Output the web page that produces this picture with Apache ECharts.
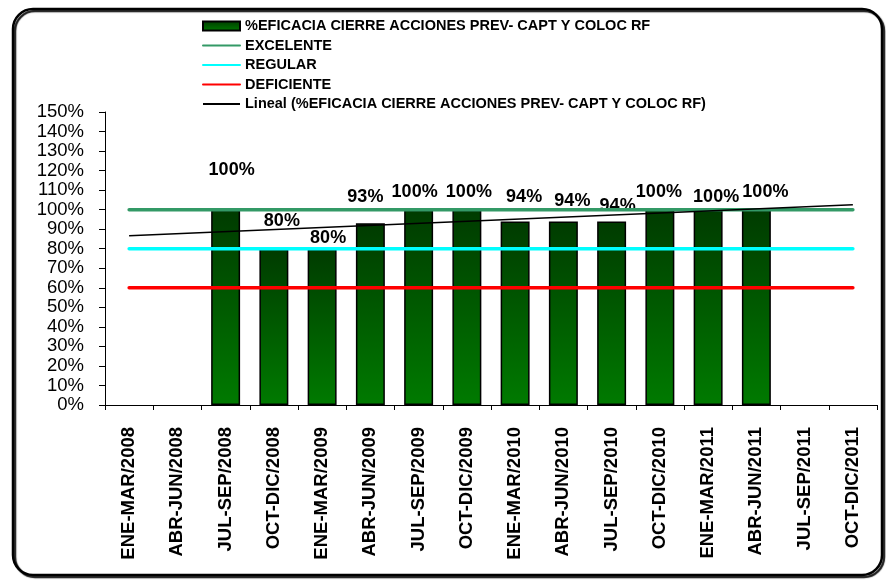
<!DOCTYPE html>
<html>
<head>
<meta charset="utf-8">
<script src="https://cdn.jsdelivr.net/npm/echarts@6/dist/echarts.min.js"></script>
<style>
  html, body { margin: 0; padding: 0; background: #fff; }
  #chart { width: 886px; height: 581px; }
</style>
</head>
<body>
<div id="chart"></div>
<script>
// categorias (trimestres)
const categories = [
  'ENE-MAR/2008', 'ABR-JUN/2008', 'JUL-SEP/2008', 'OCT-DIC/2008',
  'ENE-MAR/2009', 'ABR-JUN/2009', 'JUL-SEP/2009', 'OCT-DIC/2009',
  'ENE-MAR/2010', 'ABR-JUN/2010', 'JUL-SEP/2010', 'OCT-DIC/2010',
  'ENE-MAR/2011', 'ABR-JUN/2011', 'JUL-SEP/2011', 'OCT-DIC/2011'
];
const eficacia = [null, null, 100, 80, 80, 93, 100, 100, 94, 94, 94, 100, 100, 100, null, null];
const excelente = [100, 100, 100, 100, 100, 100, 100, 100, 100, 100, 100, 100, 100, 100, 100, 100];
const regular = [80, 80, 80, 80, 80, 80, 80, 80, 80, 80, 80, 80, 80, 80, 80, 80];
const deficiente = [60, 60, 60, 60, 60, 60, 60, 60, 60, 60, 60, 60, 60, 60, 60, 60];
const tendencia = [86.7, null, null, null, null, null, null, null, null, null, null, null, null, null, null, 102.5];
const yTicks = [0, 10, 20, 30, 40, 50, 60, 70, 80, 90, 100, 110, 120, 130, 140, 150];

const serieName = '%EFICACIA CIERRE ACCIONES PREV- CAPT Y COLOC RF';
const lineName = 'Lineal (' + serieName + ')';

// desplazamiento de las etiquetas (como quedaron en Excel)
const labelShift = [
  null, null, [6, -27], [8, -15], [6, 2], [-5, -13], [-4, -5], [2, -5],
  [9, -11], [9, -7], [6, -2], [-1, -5], [8, 0], [9, -5], null, null
];

const barData = eficacia.map((v, i) => {
  if (v === null) return null;
  const s = labelShift[i] || [0, 0];
  return { value: v, label: { offset: s } };
});

const chart = echarts.init(document.getElementById('chart'));

const noDot = { opacity: 0 };

const option = {
  animation: false,
  textStyle: { fontFamily: 'Liberation Sans, Arial, sans-serif' },
  graphic: [{
    type: 'rect',
    shape: { x: 13, y: 9, width: 869, height: 566, r: 20 },
    style: {
      fill: 'none', stroke: '#000', lineWidth: 2.5,
      shadowColor: 'rgba(0,0,0,0.9)', shadowOffsetX: 2, shadowOffsetY: 2, shadowBlur: 1
    },
    z: -1
  }],
  legend: {
    orient: 'vertical',
    left: 197,
    top: 13,
    itemWidth: 37,
    itemHeight: 9,
    itemGap: 3.5,
    textStyle: { fontSize: 14.5, fontWeight: 'bold', color: '#000', lineHeight: 16 },
    data: [
      { name: serieName, icon: 'rect' },
      { name: 'EXCELENTE', itemStyle: noDot },
      { name: 'REGULAR', itemStyle: noDot },
      { name: 'DEFICIENTE', itemStyle: noDot },
      { name: lineName, itemStyle: noDot }
    ]
  },
  grid: { left: 105, right: 9, top: 112, bottom: 176, containLabel: false },
  xAxis: {
    type: 'category',
    data: categories,
    boundaryGap: true,
    axisLine: { lineStyle: { color: '#000', width: 1 } },
    axisTick: { show: true, inside: false, length: 5, lineStyle: { color: '#000' } },
    axisLabel: {
      rotate: 90, interval: 0, margin: 22,
      fontSize: 18.5, fontWeight: 'bold', color: '#000'
    }
  },
  yAxis: {
    type: 'value',
    min: 0, max: 150, interval: 10,
    axisLine: { show: true, lineStyle: { color: '#000', width: 1 } },
    axisTick: { show: true, length: 6, lineStyle: { color: '#000' } },
    splitLine: { show: false },
    axisLabel: {
      fontSize: 18.5, color: '#000', margin: 21,
      formatter: v => yTicks.includes(v) ? v + '%' : ''
    }
  },
  series: [
    {
      name: serieName,
      type: 'bar',
      data: barData,
      barWidth: '60%',
      itemStyle: {
        color: new echarts.graphic.LinearGradient(0, 0, 0, 1, [
          { offset: 0, color: '#003b00' },
          { offset: 1, color: '#007a00' }
        ]),
        borderColor: '#000',
        borderWidth: 1.5
      },
      label: {
        show: true, position: 'top', distance: 4,
        fontSize: 18, fontWeight: 'bold', color: '#000',
        formatter: p => p.value + '%'
      },
      z: 2
    },
    {
      name: 'EXCELENTE', type: 'line', data: excelente, symbol: 'none',
      itemStyle: { color: '#339966' },
      lineStyle: { color: '#339966', width: 3.5, cap: 'round' }, z: 3
    },
    {
      name: 'REGULAR', type: 'line', data: regular, symbol: 'none',
      itemStyle: { color: '#00ffff' },
      lineStyle: { color: '#00ffff', width: 3.5, cap: 'round' }, z: 3
    },
    {
      name: 'DEFICIENTE', type: 'line', data: deficiente, symbol: 'none',
      itemStyle: { color: '#ff0000' },
      lineStyle: { color: '#ff0000', width: 3.5, cap: 'round' }, z: 3
    },
    {
      name: lineName, type: 'line',
      data: tendencia,
      connectNulls: true,
      symbol: 'none',
      itemStyle: { color: '#000' },
      lineStyle: { color: '#000', width: 1.5 }, z: 4
    }
  ]
};

chart.setOption(option);
</script>
</body>
</html>
